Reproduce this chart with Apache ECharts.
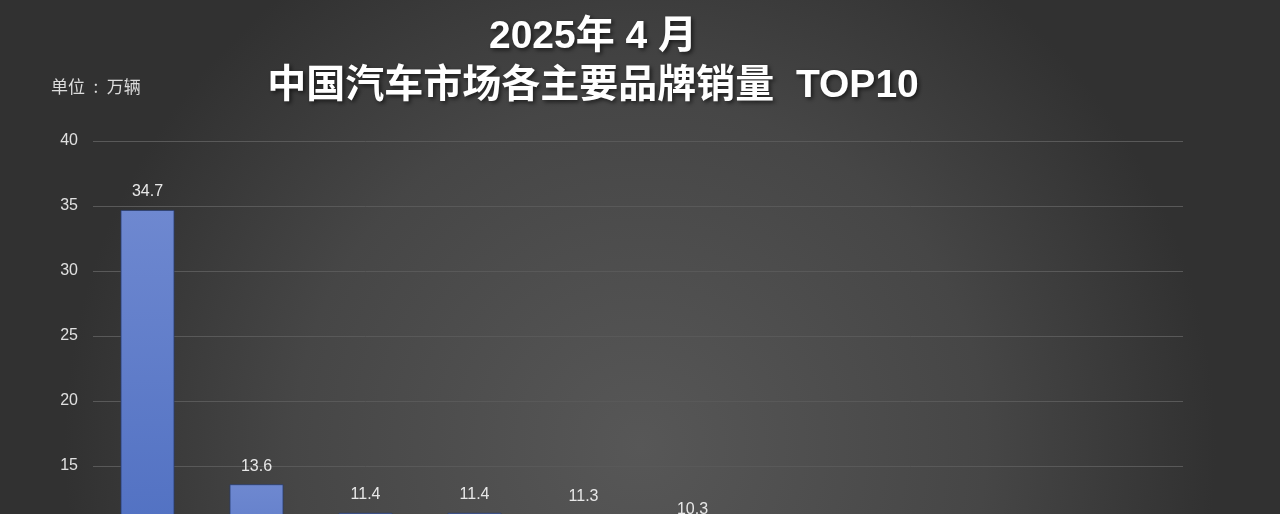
<!DOCTYPE html>
<html><head><meta charset="utf-8">
<script src="https://cdn.jsdelivr.net/npm/echarts@6/dist/echarts.min.js"></script>
<style>html,body{margin:0;padding:0;overflow:hidden;background:#333;}#c{width:1280px;height:720px;}</style>
</head><body><div id="c"></div>
<script>
const titleLines = ['2025年 4 月', '中国汽车市场各主要品牌销量  TOP10'];
const unitLabel = '单位\u2002:\u2002万辆';
const brands = ['比亚迪', '吉利', '丰田', '大众', '长安', '奇瑞', '五菱', '本田', '特斯拉', '日产'];
const sales = [34.7, 13.6, 11.4, 11.4, 11.3, 10.3, 9.0, 8.5, 7.8, 7.2];
const highlightIndex = [4];

const blue = {type:'linear',x:0,y:0,x2:0,y2:1,colorStops:[{offset:0,color:'#6e88d0'},{offset:1,color:'#4668bd'}]};
const green = {type:'linear',x:0,y:0,x2:0,y2:1,colorStops:[{offset:0,color:'#4c7040'},{offset:1,color:'#3e6034'}]};

const chart = echarts.init(document.getElementById('c'));
chart.setOption({
  backgroundColor: {type:'radial', x:0.5, y:0.62, r:0.8, colorStops:[{offset:0,color:'#575757'},{offset:0.6,color:'#464646'},{offset:1,color:'#313131'}]},
  animation:false,
  title:[{
    text: titleLines.join('\n'),
    left: 588, top: 8, textAlign:'center',
    textStyle:{color:'#ffffff', fontSize:39, fontWeight:'bold', lineHeight:49,
      fontFamily:'Liberation Sans, Noto Sans CJK SC, sans-serif',
      textShadowColor:'rgba(0,0,0,0.6)', textShadowBlur:4, textShadowOffsetX:2, textShadowOffsetY:2}
  },{
    text: unitLabel, left: 46, top: 73,
    textStyle:{color:'#dcdcdc', fontSize:17, fontWeight:'normal', fontFamily:'Noto Sans CJK SC, sans-serif'}
  }],
  grid:{left:93, right:97, top:141, bottom:59, containLabel:false},
  xAxis:{type:'category', data:brands,
    axisLine:{lineStyle:{color:'#777'}}, axisTick:{show:false},
    axisLabel:{color:'#ddd', fontSize:16}},
  yAxis:{type:'value', min:0, max:40, interval:5,
    axisLine:{show:false}, axisTick:{show:false},
    axisLabel:{color:'#e0e0e0', fontSize:16, margin:15, fontFamily:'Liberation Sans, sans-serif'},
    splitLine:{lineStyle:{color:'#595959', width:1}}},
  series:[{
    type:'bar', barWidth:54,
    data: sales.map((v,i)=>({value:v, itemStyle:{color: highlightIndex.includes(i)?green:blue}})),
    itemStyle:{borderColor:'rgba(40,60,110,0.8)', borderWidth:1},
    label:{show:true, position:'top', distance:10, color:'#e8e8e8', fontSize:16,
      fontFamily:'Liberation Sans, sans-serif', formatter:p=>p.value.toFixed(1)}
  }]
});
</script></body></html>
